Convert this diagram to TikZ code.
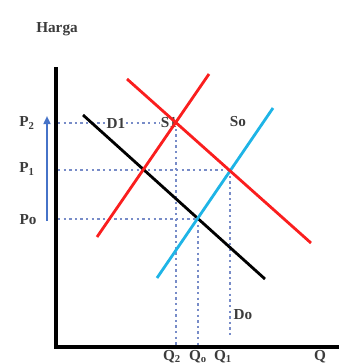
\documentclass[tikz,border=0pt]{standalone}
\usepackage{fontspec}
\setmainfont{Liberation Serif}
\usetikzlibrary{arrows.meta}
\definecolor{dotblue}{RGB}{120,140,200}
\definecolor{sblue}{RGB}{30,180,230}
\definecolor{lred}{RGB}{250,30,30}
\definecolor{arrblue}{RGB}{70,115,200}
\definecolor{txt}{RGB}{60,60,60}
\begin{document}
\begin{tikzpicture}[x=0.03cm,y=-0.03cm,
  lbl/.style={font=\fontsize{13}{15}\selectfont\bfseries, text=txt, inner sep=0.5pt},
  guide/.style={draw=dotblue, line width=1.3pt, dash pattern=on 2pt off 2.8pt},
  axisline/.style={draw=black, line width=2.8pt},
  curve/.style={line width=2.4pt}]
\useasboundingbox (0,0) rectangle (339,364);
\clip (0,0) rectangle (339,364);
% key points
\coordinate (O) at (56,347);
\coordinate (ytop) at (56,67);
\coordinate (xend) at (339,347);
\coordinate (e2) at (176,123);
\coordinate (e1) at (230,170);
\coordinate (e0) at (198,219);
\coordinate (y2) at (58,123);
\coordinate (y1) at (58,170);
\coordinate (y0) at (58,219);
\coordinate (x2) at (176,346);
\coordinate (x0) at (198,346);
\coordinate (x1) at (230,336);
% guides
\draw[guide] (y2) -- (e2);
\draw[guide] (y1) -- (e1);
\draw[guide] (y0) -- (e0);
\draw[guide] (e2) -- (x2);
\draw[guide] (e0) -- (x0);
\draw[guide] (e1) -- (x1);
% labels on the guides
\node[lbl, fill=white] (d1) at (116,123) {D1};
\node[lbl, fill=white] (s1) at (169,123) {S1};
\node[lbl] (so) at (238,122) {So};
\node[lbl] (do) at (243,315) {Do};
% curves
\coordinate (bA) at (83,115);
\coordinate (bB) at (265,279);
\coordinate (rsA) at (97,237);
\coordinate (rsB) at (209,74);
\coordinate (rdA) at (127,79);
\coordinate (rdB) at (311,243);
\coordinate (bsA) at (157,278);
\coordinate (bsB) at (273,108);
\draw[curve, black] (bA) -- (bB);
\draw[curve, sblue] (bsA) -- (bsB);
\draw[curve, lred] (rdA) -- (rdB);
\draw[curve, lred] (rsA) -- (rsB);
% axes
\draw[axisline] (ytop) -- (O) -- (xend);
% arrow
\coordinate (aA) at (47,221);
\coordinate (aB) at (47,116);
\draw[arrblue, line width=1.6pt, -{Triangle[length=7pt,width=6pt]}] (aA) -- (aB);
% axis labels
\node[lbl] (harga) at (57,29) {Harga};
\node[lbl] (p2) at (27,123) {P\textsubscript{2}};
\node[lbl] (p1) at (27,169) {P\textsubscript{1}};
\node[lbl] (p0) at (28,220) {Po};
\node[lbl, anchor=south] (q2) at (172,364) {Q\textsubscript{2}};
\node[lbl, anchor=south] (q0) at (198,364) {Q\textsubscript{o}};
\node[lbl, anchor=south] (q1) at (223,364) {Q\textsubscript{1}};
\node[lbl, anchor=south] (q) at (320,364) {Q};
\end{tikzpicture}
\end{document}
